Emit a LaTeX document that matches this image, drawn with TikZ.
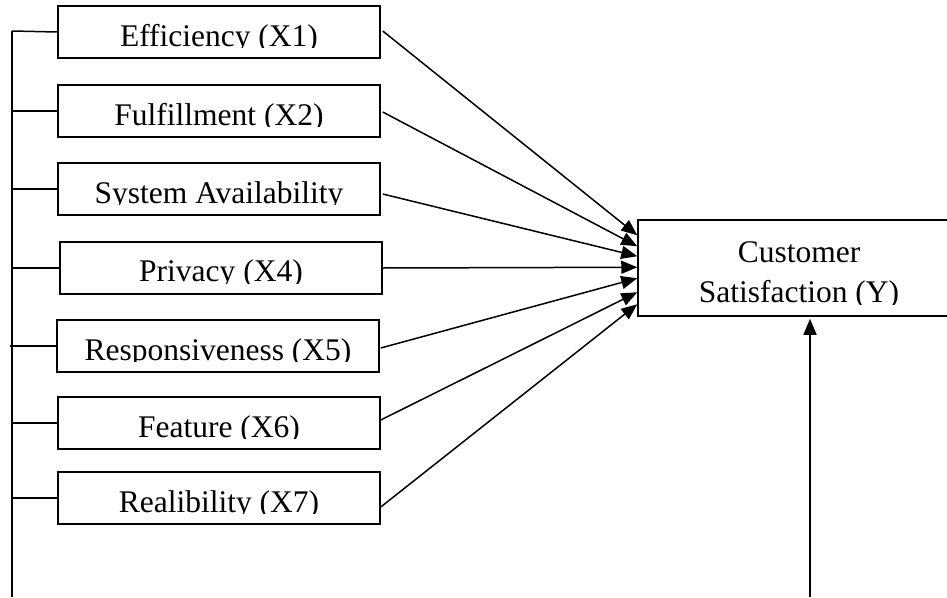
\documentclass[tikz,border=0pt]{standalone}
\usepackage{fontspec}
\setmainfont{Liberation Serif}
\usetikzlibrary{arrows.meta,calc}
\tikzset{
  varbox/.style={draw, line width=1.5pt, rectangle, inner sep=0pt, minimum width=322pt, minimum height=52pt},
  lbl/.style={inner sep=0pt, anchor=base, font=\fontsize{31.5}{36}\selectfont},
  conn/.style={line width=1.5pt},
  arr/.style={line width=1.5pt, -{Triangle[length=16pt,width=13pt]}}
}
\newcommand{\cliplabel}[5]{%
  \begin{scope}
    \clip (#2-160,#3) rectangle (#2+160,#3+41.5);
    \node[lbl] (#1) at (#2,#3+#4) {#5};
  \end{scope}}
\begin{document}
\begin{tikzpicture}[x=1pt,y=-1pt]
\useasboundingbox (0,0) rectangle (947,597);
\clip (0,0) rectangle (947,597);
\fill[white] (0,0) rectangle (947,597);

% predictor boxes
\node[varbox] (x1) at (219,32) {};
\node[varbox] (x2) at (219,111) {};
\node[varbox] (x3) at (219,189) {};
\node[varbox] (x4) at (221,268) {};
\node[varbox] (x5) at (218,346) {};
\node[varbox] (x6) at (219,423) {};
\node[varbox] (x7) at (219,498) {};

\cliplabel{t1}{219}{6}{40}{Efficiency (X1)}
\cliplabel{t2}{219}{85}{40}{Fulfillment (X2)}
\cliplabel{t3}{219}{163}{40}{System Availability}
\cliplabel{t4}{221}{242}{39}{Privacy (X4)}
\cliplabel{t5}{218}{320}{40}{Responsiveness (X5)}
\cliplabel{t6}{219}{397}{40}{Feature (X6)}
\cliplabel{t7}{219}{472}{40}{Realibility (X7)}

% outcome box
\node[varbox, minimum height=96pt] (y) at (799,268) {};
\node[lbl] (ty1) at (799,262) {Customer};
\begin{scope}
  \clip (640,222) rectangle (945,304);
  \node[lbl] (ty2) at (799,302) {Satisfaction (Y)};
\end{scope}

% left bus
\coordinate (bustop) at (12,31);
\coordinate (busbot) at (12,597);
\draw[conn] (bustop) -- (busbot);
\draw[conn] (bustop) -- (x1.west);
\draw[conn] (12,111) -- (x2.west);
\draw[conn] (12,189) -- (x3.west);
\draw[conn] (12,268) -- (x4.west);
\draw[conn] (10,346) -- (x5.west);
\draw[conn] (12,423) -- (x6.west);
\draw[conn] (12,498) -- (x7.west);

% arrows to Y
\draw[arr] ($(x1.east)+(2,-1)$) -- ($(y.north west)+(0,16)$);
\draw[arr] ($(x2.east)+(2,1)$) -- ($(y.north west)+(0,27)$);
\draw[arr] ($(x3.east)+(2,5)$) -- ($(y.north west)+(0,37)$);
\draw[arr] (x4.east) -- ($(y.north west)+(0,48)$);
\draw[arr] ($(x5.east)+(1,2)$) -- ($(y.north west)+(0,59)$);
\draw[arr] ($(x6.east)+(0,-3)$) -- ($(y.north west)+(0,73)$);
\draw[arr] ($(x7.east)+(0,9)$) -- ($(y.north west)+(0,85)$);

% bottom arrow
\coordinate (ybot) at (810,597);
\draw[arr] (ybot) -- ($(y.south)+(11,2)$);
\end{tikzpicture}
\end{document}
